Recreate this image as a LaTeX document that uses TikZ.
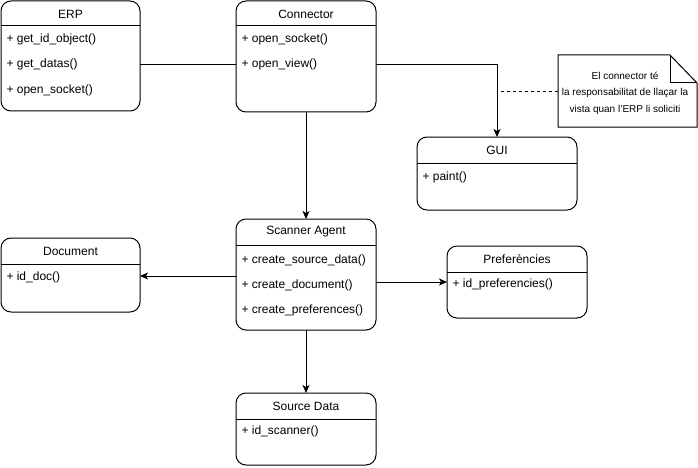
\documentclass[tikz,border=0pt]{standalone}
\usepackage{fontspec}
\setmainfont{Liberation Sans}
\usetikzlibrary{positioning,arrows.meta,calc}

\begin{document}
\begin{tikzpicture}[x=1pt,y=-1pt,line width=1pt,
  classbox/.style={draw,rounded corners=10pt,anchor=north west,inner sep=0pt,outer sep=0pt},
  classname/.style={font=\fontsize{12}{14}\selectfont,inner sep=0pt},
  member/.style={font=\fontsize{12}{14}\selectfont,anchor=west,inner sep=0pt,text height=8.5pt,text depth=2.5pt},
  link/.style={-{Stealth[length=8pt,width=7pt,inset=2pt]}}]
\useasboundingbox (0,0) rectangle (698,468);

% classes
\node[classbox,minimum width=139pt,minimum height=110pt] (erp) at (1,1) {};
\draw (erp.west |- 0,26) -- (erp.east |- 0,26);
\node[classname] (erpname) at (70.5,14) {ERP};
\node[member] (erpid) at (6,40) {+ get\_id\_object()};
\node[member] (erpdatas) at (6,65) {+ get\_datas()};
\node[member] (erpsocket) at (6,91) {+ open\_socket()};

\node[classbox,minimum width=140pt,minimum height=111pt] (connector) at (236,1) {};
\draw (connector.west |- 0,26) -- (connector.east |- 0,26);
\node[classname] (connectorname) at (306,14) {Connector};
\node[member] (consocket) at (241,40) {+ open\_socket()};
\node[member] (conview) at (241,65) {+ open\_view()};

\node[classbox,minimum width=160pt,minimum height=73pt] (gui) at (417,137) {};
\draw (gui.west |- 0,163) -- (gui.east |- 0,163);
\node[classname] (guiname) at (497,150.5) {GUI};
\node[member] (guipaint) at (422,177) {+ paint()};

\node[classbox,minimum width=139pt,minimum height=74pt] (document) at (1,238) {};
\draw (document.west |- 0,264) -- (document.east |- 0,264);
\node[classname] (documentname) at (70.5,251.5) {Document};
\node[member] (docid) at (6,277) {+ id\_doc()};

\node[classbox,minimum width=140pt,minimum height=111pt] (scanner) at (236,219) {};
\draw (scanner.west |- 0,245) -- (scanner.east |- 0,245);
\node[classname] (scannername) at (306,232) {Scanner Agent};
\node[member] (scansource) at (241,260) {+ create\_source\_data()};
\node[member] (scandoc) at (241,285) {+ create\_document()};
\node[member] (scanprefs) at (241,310) {+ create\_preferences()};

\node[classbox,minimum width=140pt,minimum height=72pt] (prefs) at (447,246) {};
\draw (prefs.west |- 0,272) -- (prefs.east |- 0,272);
\node[classname] (prefsname) at (517,259) {Preferències};
\node[member] (prefsid) at (452,284) {+ id\_preferencies()};

\node[classbox,minimum width=140pt,minimum height=72pt] (source) at (236,393) {};
\draw (source.west |- 0,419) -- (source.east |- 0,419);
\node[classname] (sourcename) at (306,406) {Source Data};
\node[member] (sourceid) at (241,431) {+ id\_scanner()};

% note
\node[minimum width=139pt,minimum height=72pt,inner sep=0pt,outer sep=0pt] (note) at (627.5,91) {};
\draw (note.north west) -- ([xshift=-27pt]note.north east) -- ([yshift=-28pt]note.north east)
  -- (note.south east) -- (note.south west) -- cycle;
\draw ([xshift=-27pt]note.north east) -- ([xshift=-27pt,yshift=-28pt]note.north east) -- ([yshift=-28pt]note.north east);
\node[align=center,inner sep=0pt,font=\fontsize{10}{16.5}\selectfont] (notetext) at (625,93)
  {El connector té\\la responsabilitat de llaçar la\\vista quan l'ERP li soliciti};

% connectors
\draw (erp.east |- erpdatas) -- (connector.west |- erpdatas);
\draw[link] (connector.east |- conview) -| (gui.north);
\draw[dashed,line width=0.8pt] (note.west) -- (note.west -| gui.north);
\draw[link] (connector.south) -- (scanner.north);
\draw[link] (scanner.west |- 0,276) -- (document.east |- 0,276);
\draw[link] (scanner.east |- prefs.west) -- (prefs.west);
\draw[link] (scanner.south) -- (source.north);
\end{tikzpicture}
\end{document}
